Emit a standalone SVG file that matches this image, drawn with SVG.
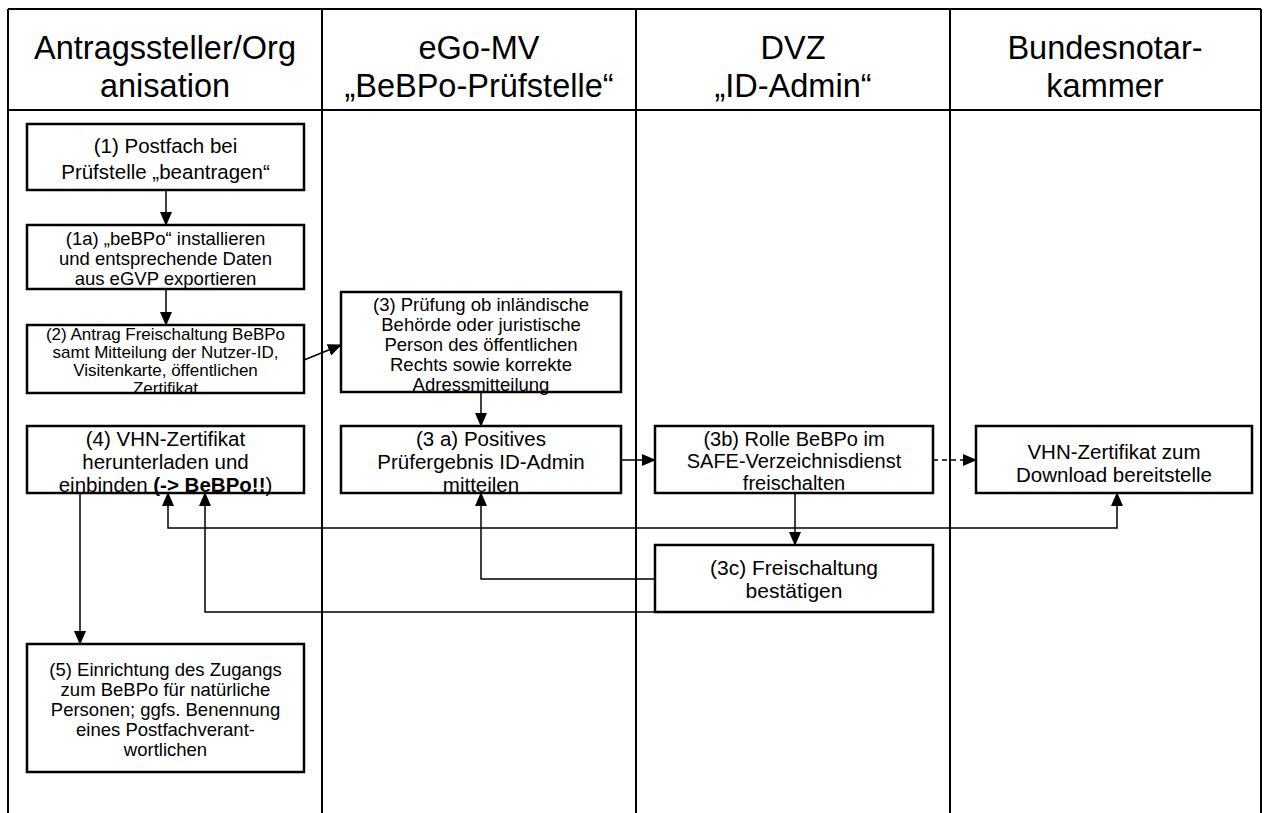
<svg xmlns="http://www.w3.org/2000/svg" width="1268" height="813" viewBox="0 0 1268 813">
<style>
.lane{stroke:#000;stroke-width:2;fill:none}
.box{fill:#fff;stroke:#000;stroke-width:2.5}
.hd{font-family:"Liberation Sans",Arial,sans-serif;font-size:32.5px;fill:#000;text-anchor:middle;dominant-baseline:central}
.t{font-family:"Liberation Sans",Arial,sans-serif;fill:#000;text-anchor:middle;dominant-baseline:central}
.c{stroke:#000;stroke-width:1.5;fill:none}
.b{font-weight:bold}
</style>
<defs>
<marker id="ah" markerUnits="userSpaceOnUse" markerWidth="14" markerHeight="14" viewBox="0 0 14 14" refX="13" refY="7" orient="auto-start-reverse">
<path d="M0,1 L14,7 L0,13 Z" fill="#000"/>
</marker>
</defs>
<rect width="1268" height="813" fill="#fff"/>
<g id="lanes">
<line class="lane" x1="8" y1="9" x2="1261" y2="9"/>
<line class="lane" x1="8" y1="110" x2="1261" y2="110"/>
<line class="lane" x1="8" y1="9" x2="8" y2="813"/>
<line class="lane" x1="322" y1="9" x2="322" y2="813"/>
<line class="lane" x1="636" y1="9" x2="636" y2="813"/>
<line class="lane" x1="950" y1="9" x2="950" y2="813"/>
<line class="lane" x1="1261" y1="9" x2="1261" y2="813"/>
<text class="hd" x="165" y="48">Antragssteller/Org</text>
<text class="hd" x="165" y="86">anisation</text>
<text class="hd" x="479" y="48">eGo-MV</text>
<text class="hd" x="479" y="86">„BeBPo-Prüfstelle“</text>
<text class="hd" x="793" y="48">DVZ</text>
<text class="hd" x="793" y="86">„ID-Admin“</text>
<text class="hd" x="1105" y="48">Bundesnotar-</text>
<text class="hd" x="1105" y="86">kammer</text>
</g>
<g id="connectors">
<line class="c" x1="166" y1="190" x2="166" y2="225" marker-end="url(#ah)"/>
<line class="c" x1="166" y1="289" x2="166" y2="325" marker-end="url(#ah)"/>
<line class="c" x1="304" y1="360" x2="341" y2="345" marker-end="url(#ah)"/>
<line class="c" x1="481" y1="392" x2="481" y2="426" marker-end="url(#ah)"/>
<line class="c" x1="621" y1="460" x2="655" y2="460" marker-end="url(#ah)"/>
<line class="c" x1="933" y1="460" x2="976" y2="460" stroke-dasharray="5,4" marker-end="url(#ah)"/>
<line class="c" x1="795" y1="493" x2="795" y2="545" marker-end="url(#ah)"/>
<path class="c" d="M168,493 V528 H1117 V493" marker-start="url(#ah)" marker-end="url(#ah)"/>
<path class="c" d="M655,579 H481 V493" stroke="#404040" marker-end="url(#ah)"/>
<path class="c" d="M655,612 H205 V493" stroke="#7f7f7f" marker-end="url(#ah)"/>
<line class="c" x1="80" y1="493" x2="80" y2="644" marker-end="url(#ah)"/>
</g>
<g id="n1">
<rect class="box" x="27" y="124" width="277" height="66"/>
<text class="t" x="165.5" y="145" font-size="20.5">(1) Postfach bei</text>
<text class="t" x="165.5" y="171" font-size="20.5">Prüfstelle „beantragen“</text>
</g>
<g id="n1a">
<rect class="box" x="27" y="225" width="277" height="64"/>
<text class="t" x="165.5" y="238" font-size="18.5">(1a) „beBPo“ installieren</text>
<text class="t" x="165.5" y="258" font-size="18.5">und entsprechende Daten</text>
<text class="t" x="165.5" y="278" font-size="18.5">aus eGVP exportieren</text>
</g>
<g id="n2">
<rect class="box" x="27" y="325" width="277" height="68"/>
<text class="t" x="165.5" y="334" font-size="17">(2) Antrag Freischaltung BeBPo</text>
<text class="t" x="165.5" y="352" font-size="17">samt Mitteilung der Nutzer-ID,</text>
<text class="t" x="165.5" y="370" font-size="17">Visitenkarte, öffentlichen</text>
<text class="t" x="165.5" y="388" font-size="17">Zertifikat</text>
</g>
<g id="n3">
<rect class="box" x="341" y="292" width="280" height="100"/>
<text class="t" x="481" y="304" font-size="18.5">(3) Prüfung ob inländische</text>
<text class="t" x="481" y="324" font-size="18.5">Behörde oder juristische</text>
<text class="t" x="481" y="344" font-size="18.5">Person des öffentlichen</text>
<text class="t" x="481" y="364" font-size="18.5">Rechts sowie korrekte</text>
<text class="t" x="481" y="384" font-size="18.5">Adressmitteilung</text>
</g>
<g id="n4">
<rect class="box" x="27" y="426" width="277" height="67"/>
<text class="t" x="165.5" y="438" font-size="20.5">(4) VHN-Zertifikat</text>
<text class="t" x="165.5" y="461" font-size="20.5">herunterladen und</text>
<text class="t" x="165.5" y="484" font-size="20.5">einbinden <tspan class="b">(-&gt; BeBPo!!</tspan>)</text>
</g>
<g id="n3a">
<rect class="box" x="341" y="426" width="280" height="67"/>
<text class="t" x="481" y="438" font-size="20.5">(3 a) Positives</text>
<text class="t" x="481" y="461" font-size="20.5">Prüfergebnis ID-Admin</text>
<text class="t" x="481" y="484" font-size="20.5">mitteilen</text>
</g>
<g id="n3b">
<rect class="box" x="655" y="426" width="278" height="67"/>
<text class="t" x="794" y="439" font-size="20">(3b) Rolle BeBPo im</text>
<text class="t" x="794" y="461" font-size="20">SAFE-Verzeichnisdienst</text>
<text class="t" x="794" y="483" font-size="20">freischalten</text>
</g>
<g id="nvhn">
<rect class="box" x="976" y="426" width="276" height="67"/>
<text class="t" x="1114" y="451" font-size="20.5">VHN-Zertifikat zum</text>
<text class="t" x="1114" y="474" font-size="20.5">Download bereitstelle</text>
</g>
<g id="n3c">
<rect class="box" x="655" y="545" width="278" height="67"/>
<text class="t" x="794" y="567" font-size="21">(3c) Freischaltung</text>
<text class="t" x="794" y="590" font-size="21">bestätigen</text>
</g>
<g id="n5">
<rect class="box" x="27" y="644" width="277" height="128"/>
<text class="t" x="165.5" y="669" font-size="18.5">(5) Einrichtung des Zugangs</text>
<text class="t" x="165.5" y="689" font-size="18.5">zum BeBPo für natürliche</text>
<text class="t" x="165.5" y="709" font-size="18.5">Personen; ggfs. Benennung</text>
<text class="t" x="165.5" y="729" font-size="18.5">eines Postfachverant-</text>
<text class="t" x="165.5" y="749" font-size="18.5">wortlichen</text>
</g>
</svg>
